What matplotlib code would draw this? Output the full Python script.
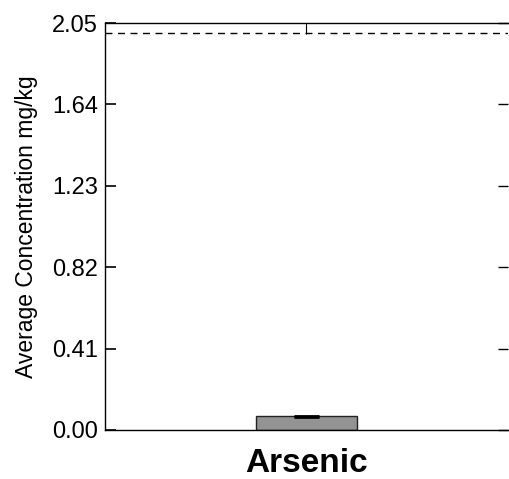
import matplotlib
matplotlib.use("Agg")
import matplotlib.pyplot as plt

categories = ["Arsenic"]
values = [0.07]
errors = [0.003]
threshold = 2.0
yticks = [0.00, 0.41, 0.82, 1.23, 1.64, 2.05]

plt.rcParams['font.family'] = ['Liberation Sans', 'DejaVu Sans']
fig = plt.figure(figsize=(5.1, 4.79), dpi=100)
ax = fig.add_axes([105/510, 49/479, 403/510, 407/479])

x = list(range(len(categories)))
ax.bar(x, values, width=0.25, color='#939393', edgecolor='#222222', linewidth=1.0, zorder=2)
ax.errorbar(x, values, yerr=errors, fmt='none', ecolor='black', elinewidth=1.2, capsize=9, capthick=2, zorder=3)
ax.axhline(threshold, color='black', linestyle=(0, (5, 4)), linewidth=1.0)

ax.set_xlim(-0.5, 0.5)
ax.set_ylim(0, 2.05)
ax.set_yticks(yticks)
ax.set_yticklabels([f"{v:.2f}" for v in yticks], fontsize=17)
ax.set_xticks(x)
ax.set_xticklabels(categories, fontsize=24, fontweight='bold')
ax.set_ylabel("Average Concentration mg/kg", fontsize=16.5, labelpad=10)

ax.spines['right'].set_visible(False)
for s in ['left', 'top', 'bottom']:
    ax.spines[s].set_linewidth(1.0)
ax.tick_params(axis='y', which='major', left=False, right=True, direction='in',
               length=7.2, width=1.0, pad=5, color='black')
ax.tick_params(axis='x', bottom=False, top=True, direction='in', length=8, width=0.8, pad=13)
# inward tick marks on the left spine (drawn in axes-fraction x)
ax.hlines(yticks, 0, 0.028, transform=ax.get_yaxis_transform(), colors='black',
          linewidth=1.2, clip_on=False, zorder=6)

fig.savefig("out.png", dpi=100)
